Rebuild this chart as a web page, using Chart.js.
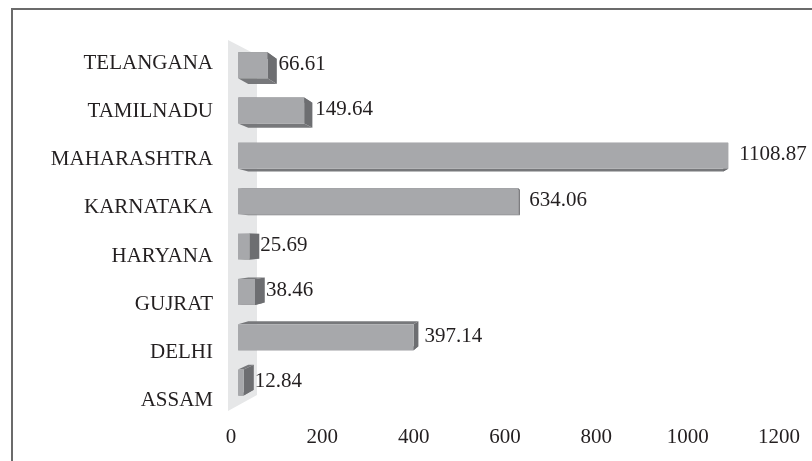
<!DOCTYPE html>
<html>
<head>
<meta charset="utf-8">
<script src="https://cdn.jsdelivr.net/npm/chart.js@4.4.1/dist/chart.umd.min.js"></script>
<style>
  body { margin: 0; background: #fff; }
  #wrap { width: 812px; height: 461px; position: relative; }
</style>
</head>
<body>
<div id="wrap"><canvas id="stateChart"></canvas></div>
<script>
// Data
const categories = ["TELANGANA", "TAMILNADU", "MAHARASHTRA", "KARNATAKA", "HARYANA", "GUJRAT", "DELHI", "ASSAM"];
const values = [66.61, 149.64, 1108.87, 634.06, 25.69, 38.46, 397.14, 12.84];
const xTicks = [0, 200, 400, 600, 800, 1000, 1200];

const serif = "'Liberation Serif', 'Times New Roman', serif";
const textColor = "#231f20";

// 3D look: front plane is slightly shrunk from the axis plane,
// back faces are pulled toward a vanishing point
const depth = { vx: 570, vy: 240, cx: 0.031, cy: 0.037 };
const colors = { front: "#a7a8ab", side: "#6d6e71", cap: "#77787b", wall: "#e6e7e8" };

function backOf(px, py) {
  return [px + depth.cx * (depth.vx - px), py + depth.cy * (depth.vy - py)];
}

function poly(ctx, pts, fill) {
  ctx.beginPath();
  ctx.moveTo(pts[0][0], pts[0][1]);
  for (let i = 1; i < pts.length; i++) ctx.lineTo(pts[i][0], pts[i][1]);
  ctx.closePath();
  ctx.fillStyle = fill;
  ctx.fill();
}

const bars3d = {
  id: "bars3d",
  beforeDraw(chart) {
    // frame
    const ctx = chart.ctx;
    ctx.save();
    ctx.strokeStyle = "#6b6b6b";
    ctx.lineWidth = 2;
    ctx.beginPath();
    ctx.moveTo(12, chart.height + 2);
    ctx.lineTo(12, 9);
    ctx.lineTo(chart.width + 2, 9);
    ctx.stroke();
    ctx.restore();
  },
  beforeDatasetsDraw(chart) {
    // side wall at zero
    const ctx = chart.ctx;
    const area = chart.chartArea;
    const x0 = chart.scales.x.getPixelForValue(0);
    ctx.save();
    poly(ctx, [
      [x0 - 3, area.top + 1],
      [x0 + 26, area.top + 16],
      [x0 + 26, area.bottom - 30],
      [x0 - 3, area.bottom - 14],
    ], colors.wall);
    ctx.restore();
  },
  afterDatasetsDraw(chart) {
    const ctx = chart.ctx;
    const xs = chart.scales.x;
    const ys = chart.scales.y;
    const x0 = xs.getPixelForValue(0);
    const yFirst = ys.getPixelForValue(0);
    const fx = v => x0 + 7 + (xs.getPixelForValue(v) - x0) * 0.968;
    const fy = i => yFirst + 2 + (ys.getPixelForValue(i) - yFirst) * 0.94;
    const half = 13;

    ctx.save();
    values.forEach((v, i) => {
      const L = fx(0), R = fx(v);
      const cy = fy(i), T = cy - half, B = cy + half;
      const tl = backOf(L, T), tr = backOf(R, T);
      const bl = backOf(L, B), br = backOf(R, B);

      poly(ctx, [[L, T], [R, T], tr, tl], colors.cap);
      poly(ctx, [[L, B], [R, B], br, bl], colors.cap);
      poly(ctx, [[R, T], [R, B], br, tr], colors.side);
      poly(ctx, [[L, T], [R, T], [R, B], [L, B]], colors.front);

      ctx.fillStyle = textColor;
      ctx.font = "21px " + serif;
      ctx.textAlign = "left";
      ctx.textBaseline = "middle";
      ctx.fillText(v.toFixed(2), R + 11, cy - 1);
    });
    ctx.restore();
  },
};

const config = {
  type: "bar",
  data: {
    labels: categories,
    datasets: [
      {
        data: values,
        backgroundColor: "rgba(0,0,0,0)",
        borderWidth: 0,
        categoryPercentage: 1,
        barPercentage: 0.57,
      },
    ],
  },
  options: {
    indexAxis: "y",
    responsive: true,
    maintainAspectRatio: false,
    animation: false,
    layout: { padding: { top: 39, right: 33, bottom: 0, left: 0 } },
    plugins: {
      legend: { display: false },
      tooltip: { enabled: false },
    },
    scales: {
      x: {
        type: "linear",
        min: 0,
        max: 1200,
        afterBuildTicks: s => { s.ticks = xTicks.map(v => ({ value: v })); },
        afterFit: s => { s.height = 36; },
        grid: { display: false, drawTicks: false },
        border: { display: false },
        ticks: {
          color: textColor,
          font: { family: serif, size: 21 },
          padding: 0,
          maxRotation: 0,
          callback: v => String(v),
        },
      },
      y: {
        afterFit: s => { s.width = 231; },
        grid: { display: false, drawTicks: false },
        border: { display: false },
        ticks: { color: textColor, font: { family: serif, size: 21 }, padding: 18 },
      },
    },
  },
  plugins: [bars3d],
};

new Chart(document.getElementById("stateChart"), config);
</script>
</body>
</html>
